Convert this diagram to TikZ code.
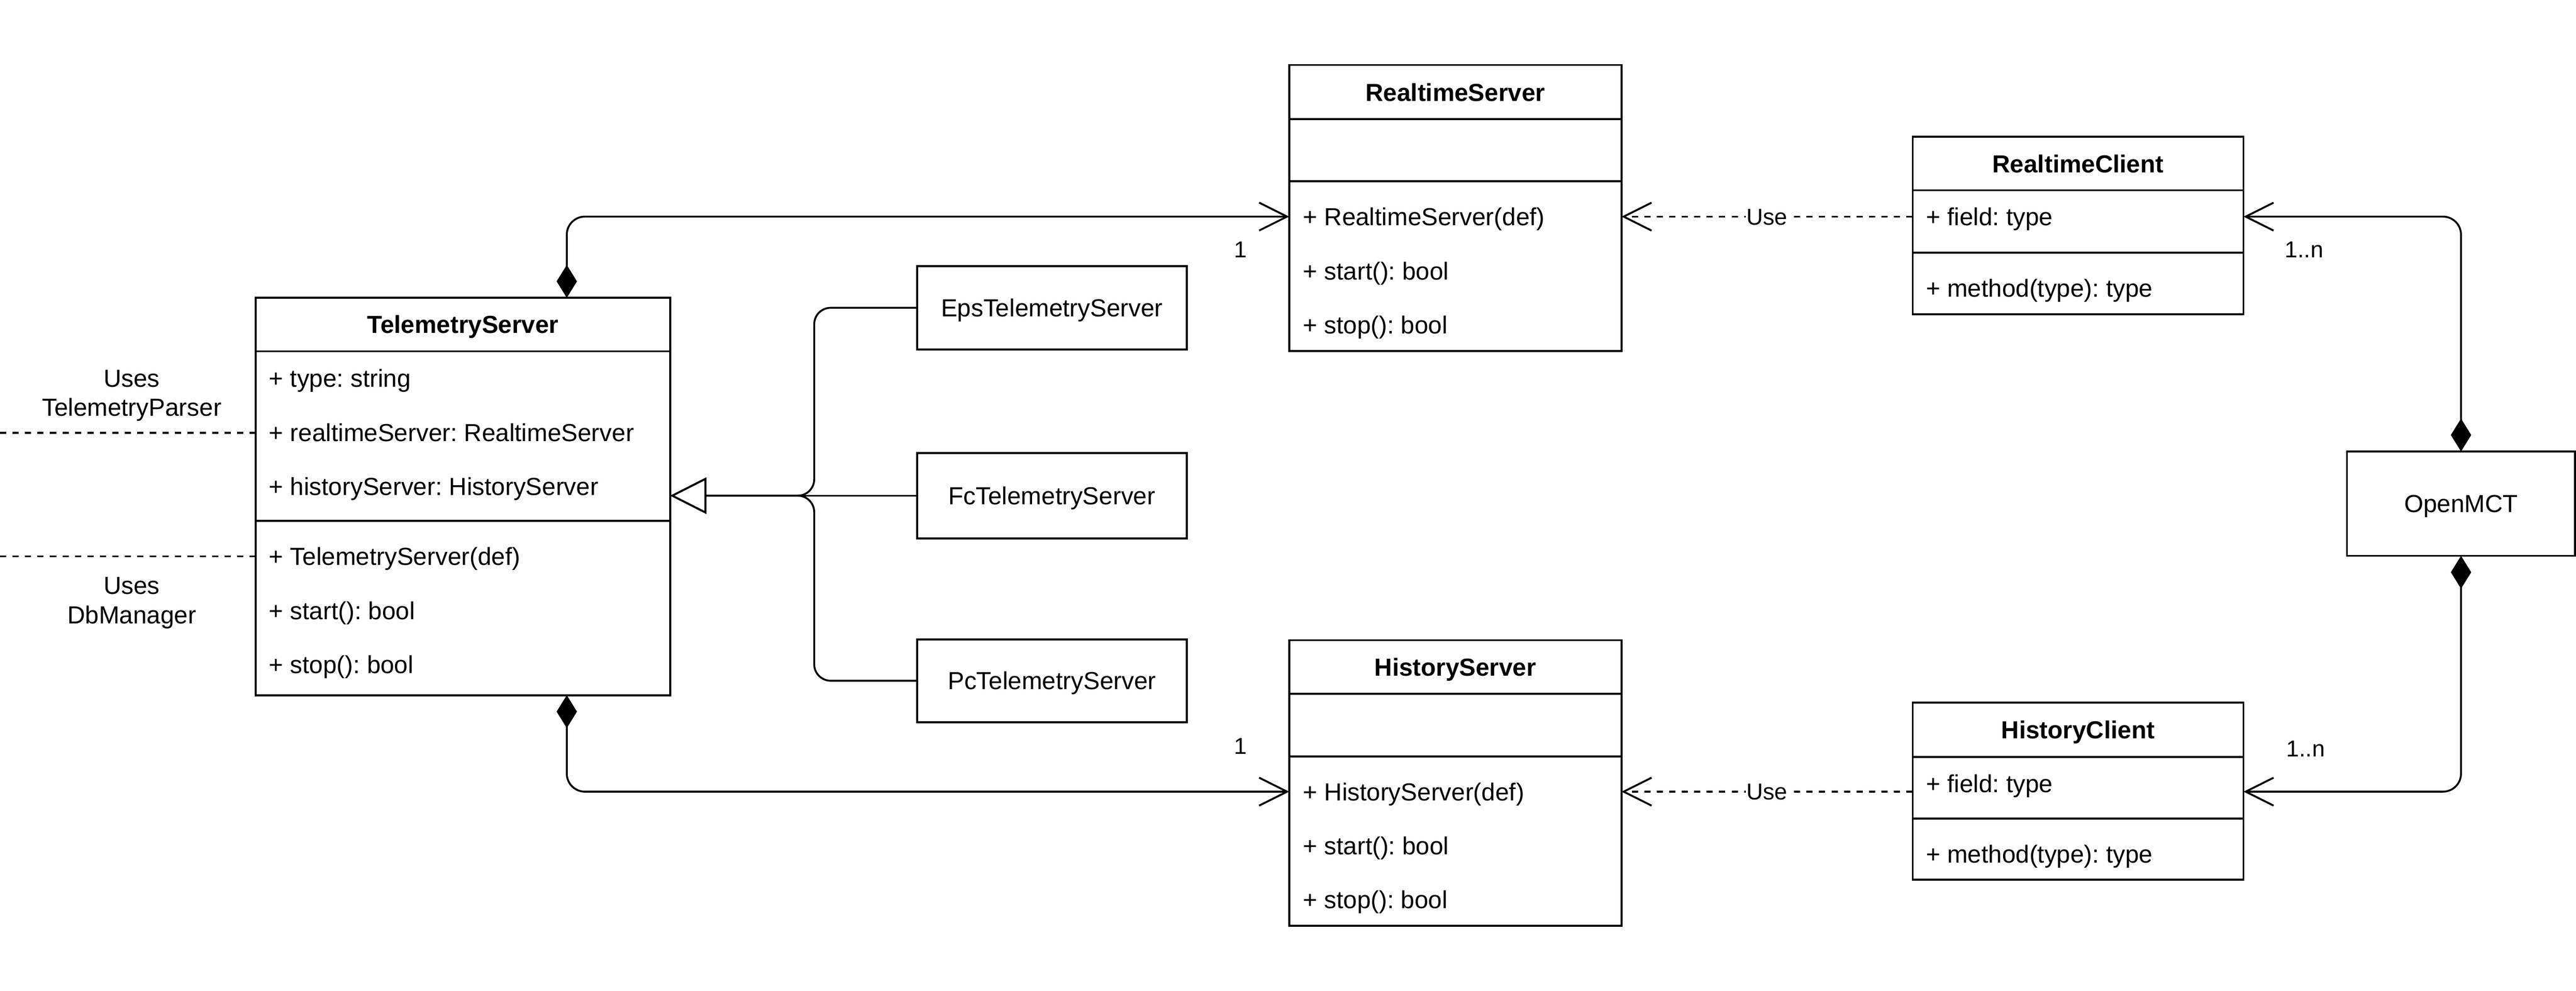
\documentclass[tikz,border=0pt]{standalone}
\usepackage{fontspec}
\setmainfont{Liberation Sans}
\usetikzlibrary{arrows.meta}
\frenchspacing
\begin{document}
\begin{tikzpicture}[x=1pt,y=-1pt,line width=1.15pt,
  box/.style={draw,rectangle,inner sep=0pt,outer sep=0pt},
  txt/.style={font=\fontsize{15}{17.7}\selectfont,inner sep=0pt,text height=10.74pt,text depth=0pt},
  ttl/.style={font=\fontsize{15}{17.7}\selectfont\bfseries,inner sep=0pt,text height=10.74pt,text depth=0pt},
  row/.style={txt,anchor=west},
  small/.style={font=\fontsize{14}{16}\selectfont,inner sep=0pt,text height=10pt,text depth=0pt},
  sep/.style={line width=1.15pt},
  comp/.style={{Diamond[length=20pt,width=12.4pt]}-{Straight Barb[length=17pt,width=17pt]},rounded corners=11pt},
  gen/.style={-{Triangle[open,length=22pt,width=22pt,fill=white]},rounded corners=10pt},
  dep/.style={dash pattern=on 3.8pt off 3.8pt,-{Straight Barb[length=17pt,width=17pt]}},
  dashline/.style={dash pattern=on 3.8pt off 3.8pt},
  note/.style={font=\fontsize{15}{17.7}\selectfont,align=center,inner sep=0pt,text height=10.74pt,text depth=0pt,anchor=north}
]
\useasboundingbox (0,0) rectangle (1568,603);

% TelemetryServer
\node[box,minimum width=252.4pt,minimum height=241.8pt] (ts) at (281.8,302.1) {};
\node[ttl] (tst) at (281.8,197.5) {TelemetryServer};
\draw[sep] (155.6,213.8) -- (408,213.8);
\draw[sep] (155.6,317) -- (408,317);
\node[row] (tsa1) at (163.2,230) {+ type: string};
\node[row] (tsa2) at (163.2,263.3) {+ realtimeServer: RealtimeServer};
\node[row] (tsa3) at (163.2,296) {+ historyServer: HistoryServer};
\node[row] (tsm1) at (163.2,338.5) {+ TelemetryServer(def)};
\node[row] (tsm2) at (163.2,371.5) {+ start(): bool};
\node[row] (tsm3) at (163.2,404.5) {+ stop(): bool};

% subclasses
\node[box,minimum width=164pt,minimum height=50.6pt,txt] (eps) at (640.3,187.3) {EpsTelemetryServer};
\node[box,minimum width=164pt,minimum height=52pt,txt] (fc) at (640.3,301.6) {FcTelemetryServer};
\node[box,minimum width=164pt,minimum height=50.4pt,txt] (pc) at (640.3,414.2) {PcTelemetryServer};

% RealtimeServer
\node[box,minimum width=202.3pt,minimum height=174pt] (rs) at (885.85,126.5) {};
\node[ttl] (rst) at (885.85,56.3) {RealtimeServer};
\draw[sep] (784.7,72.4) -- (987,72.4);
\draw[sep] (784.7,110.2) -- (987,110.2);
\node[row] (rsr1) at (792.6,131.8) {+ RealtimeServer(def)};
\node[row] (rsr2) at (792.6,164.8) {+ start(): bool};
\node[row] (rsr3) at (792.6,197.8) {+ stop(): bool};

% HistoryServer
\node[box,minimum width=202.3pt,minimum height=173.6pt] (hs) at (885.85,476.4) {};
\node[ttl] (hst) at (885.85,406) {HistoryServer};
\draw[sep] (784.7,422.2) -- (987,422.2);
\draw[sep] (784.7,460.2) -- (987,460.2);
\node[row] (hsr1) at (792.6,481.7) {+ HistoryServer(def)};
\node[row] (hsr2) at (792.6,514.6) {+ start(): bool};
\node[row] (hsr3) at (792.6,547.4) {+ stop(): bool};

% RealtimeClient
\node[box,minimum width=201.4pt,minimum height=108pt] (rc) at (1264.9,137.2) {};
\node[ttl] (rct) at (1264.9,99.6) {RealtimeClient};
\draw[sep] (1164.2,115.8) -- (1365.6,115.8);
\draw[sep] (1164.2,153.7) -- (1365.6,153.7);
\node[row] (rcf) at (1171.8,131.8) {+ field: type};
\node[row] (rcm) at (1171.8,175.2) {+ method(type): type};

% HistoryClient
\node[box,minimum width=201.4pt,minimum height=107.7pt] (hc) at (1264.9,481.45) {};
\node[ttl] (hct) at (1264.9,444) {HistoryClient};
\draw[sep] (1164.2,460.5) -- (1365.6,460.5);
\draw[sep] (1164.2,498.1) -- (1365.6,498.1);
\node[row] (hcf) at (1171.8,476.8) {+ field: type};
\node[row] (hcm) at (1171.8,519.6) {+ method(type): type};

% OpenMCT
\node[box,minimum width=138.8pt,minimum height=63.5pt,txt] (om) at (1498,306.45) {OpenMCT};

% compositions
\draw[comp] ([xshift=189.4pt]ts.north west) |- (rs.west |- rsr1);
\draw[comp] ([xshift=189.4pt]ts.south west) |- (hs.west |- hsr1);
\draw[comp] (om.north) |- (rc.east |- rcf);
\draw[comp] (om.south) |- (hc.east |- hsr1);
\node[small] (m1) at (755,151.8) {1};
\node[small] (m2) at (755,454) {1};
\node[small] (m3) at (1402.5,151.6) {1..n};
\node[small] (m4) at (1403.5,455.4) {1..n};

% dependencies
\draw[dep] (rc.west |- rcf) -- node[small,fill=white,inner xsep=0.5pt,inner ysep=2pt] (u1) {Use} (rs.east |- rsr1);
\draw[dep] (hc.west |- hsr1) -- node[small,fill=white,inner xsep=0.5pt,inner ysep=2pt] (u2) {Use} (hs.east |- hsr1);

% generalization
\coordinate (jx) at (495.6,301.6);
\draw[gen] (eps.west) -- (eps.west -| jx) -- (jx) -- (ts.east |- fc.west);
\draw[gen] (pc.west) -- (pc.west -| jx) -- (jx) -- (ts.east |- fc.west);
\draw[gen] (fc.west) -- (ts.east |- fc.west);

% external uses
\coordinate (e1) at (0,263.3);
\coordinate (e2) at (0,338.5);
\draw[dashline] (e1) -- (ts.west |- e1);
\draw[dashline] (e2) -- (ts.west |- e2);
\node[note] (n1) at (80.2,241.8) {Uses\\TelemetryParser};
\node[note] (n2) at (80.2,368) {Uses\\DbManager};
\end{tikzpicture}
\end{document}
